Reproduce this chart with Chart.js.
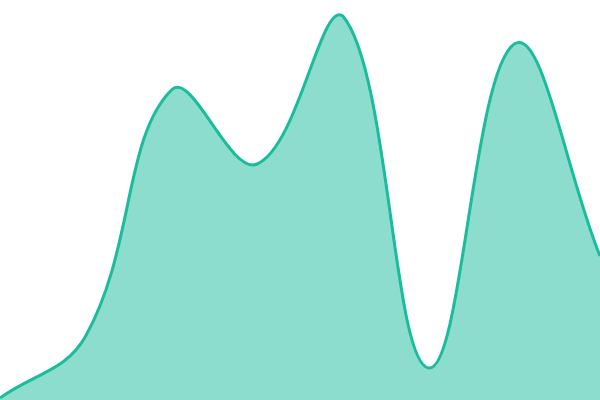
<!DOCTYPE html>
<html>
<head>
<meta charset="utf-8">
<script src="https://cdn.jsdelivr.net/npm/chart.js@4/dist/chart.umd.min.js"></script>
<style>
  html, body { margin: 0; padding: 0; background: #fff; }
  #wrap { width: 600px; height: 400px; }
</style>
</head>
<body>
<div id="wrap"><canvas id="areaChart"></canvas></div>
<script>
// points along the curve
let labels = ["1", "2", "3", "4", "5", "6", "7", "8"];
let values = [0.5, 16, 77.5, 59, 96, 8, 89, 36];

let ctx = document.getElementById("areaChart").getContext("2d");
let myChart = new Chart(ctx, {
    type: "line",
    data: {
        labels: labels,
        datasets: [{
            data: values,
            fill: true,
            borderColor: "#1abc9c",
            backgroundColor: "rgba(26, 188, 156, .5)",
            borderWidth: 3,
            pointRadius: 0,
            tension: 0.4
        }]
    },
    options: {
        responsive: true,
        maintainAspectRatio: false,
        animation: false,
        layout: { padding: 0 },
        plugins: { legend: { display: false }, tooltip: { enabled: false } },
        scales: {
            x: { display: false, offset: false },
            y: { display: false, min: 0, max: 100 }
        }
    }
});
</script>
</body>
</html>
